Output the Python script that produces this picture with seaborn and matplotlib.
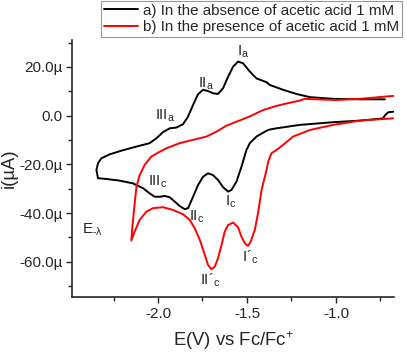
# cyclic voltammograms, with / without acetic acid
import pandas as pd
import matplotlib
matplotlib.use('Agg')
import matplotlib.pyplot as plt
import numpy as np
import seaborn as sns
from matplotlib.ticker import MultipleLocator, FuncFormatter

# black: absence of acetic acid (cathodic sweep right->left, then anodic back)
E_absence = [-0.678, -0.706, -0.725, -0.736, -0.866, -1.016, -1.203, -1.334, -1.372, -1.390,
             -1.447, -1.484, -1.503, -1.531, -1.559, -1.587, -1.606, -1.634, -1.663, -1.691,
             -1.719, -1.747, -1.775, -1.803, -1.831, -1.850, -1.878, -1.906, -1.934, -1.962,
             -1.990, -2.019, -2.047, -2.084, -2.141, -2.215, -2.290, -2.337, -2.346, -2.337,
             -2.318, -2.272, -2.197, -2.121, -2.047, -2.009, -1.972, -1.934, -1.897, -1.859,
             -1.831, -1.803, -1.775, -1.747, -1.719, -1.691, -1.663, -1.634, -1.606, -1.578,
             -1.550, -1.522, -1.484, -1.447, -1.390, -1.372, -1.297, -1.222, -1.147, -1.016,
             -0.866, -0.725]
i_absence = [1.6, 1.4, 0.1, -1.15, -2.05, -2.7, -3.8, -5.2, -5.7, -6.2,
             -8.6, -11.3, -14.1, -21.0, -27.1, -30.5, -31.2, -29.4, -26.4, -24.4,
             -23.7, -25.1, -28.5, -33.3, -38.0, -38.4, -37.1, -35.3, -33.5, -33.0,
             -33.3, -33.3, -31.9, -29.8, -27.8, -26.7, -26.0, -25.7, -22.3, -19.5,
             -17.5, -15.9, -14.2, -12.7, -11.3, -9.3, -6.8, -5.2, -4.9, -3.5,
             -0.4, 4.4, 8.8, 10.6, 10.1, 9.2, 8.9, 11.3, 16.0, 20.1,
             22.2, 21.5, 18.1, 15.3, 13.7, 12.6, 10.6, 8.9, 7.6, 6.9,
             6.7, 6.7]

# red: presence of acetic acid 1 mM
E_presence = [-0.678, -0.866, -1.016, -1.147, -1.241, -1.297, -1.334, -1.362, -1.381, -1.390,
              -1.418, -1.438, -1.456, -1.479, -1.494, -1.512, -1.531, -1.550, -1.578, -1.606,
              -1.625, -1.643, -1.663, -1.681, -1.700, -1.719, -1.737, -1.765, -1.794, -1.822,
              -1.859, -1.916, -1.972, -2.028, -2.065, -2.103, -2.131, -2.150, -2.144, -2.131,
              -2.121, -2.103, -2.075, -2.037, -2.002, -1.953, -1.878, -1.784, -1.728, -1.672,
              -1.615, -1.559, -1.484, -1.409, -1.334, -1.259, -1.203, -1.175, -1.109, -0.997,
              -0.866, -0.678]
i_presence = [-1.1, -2.05, -3.8, -5.9, -8.6, -12.0, -14.1, -15.4, -18.9, -22.3,
              -30.5, -40.1, -46.9, -51.7, -53.5, -52.4, -49.7, -45.8, -43.9, -44.9,
              -47.6, -53.1, -58.6, -62.0, -63.1, -61.3, -57.2, -51.0, -46.2, -42.8,
              -40.5, -38.7, -37.6, -38.0, -39.4, -42.8, -47.6, -51.3, -45.6, -36.0,
              -29.2, -24.4, -20.2, -16.8, -15.3, -13.4, -11.3, -9.6, -8.6, -6.6,
              -4.1, -2.5, -0.3, 2.3, 4.0, 5.3, 6.2, 6.9, 6.7, 6.4,
              6.9, 8.1]

# peak labels
peak_labels = ['I$_{\\rm a}$', 'II$_{\\rm a}$', 'III$_{\\rm a}$', 'III$_{\\rm c}$', 'II$_{\\rm c}$',
               'I$_{\\rm c}$', 'I\u00b4$_{\\rm c}$', 'II\u00b4$_{\\rm c}$', 'E$_{\\rm \u2010\\lambda}$']
peak_E = [-1.522, -1.731, -1.962, -2.002, -1.781, -1.591, -1.484, -1.709, -2.367]
peak_i = [26.1, 13.0, -0.1, -27.2, -41.6, -35.4, -58.0, -67.5, -46.9]

sns.set_style('ticks')
plt.rcParams['font.family'] = ['Liberation Sans', 'DejaVu Sans']
plt.rcParams['mathtext.fontset'] = 'custom'
plt.rcParams['mathtext.rm'] = 'Liberation Sans'
plt.rcParams['mathtext.it'] = 'Liberation Sans:italic'

df_a = pd.DataFrame({'E': E_absence, 'i': i_absence})
df_b = pd.DataFrame({'E': E_presence, 'i': i_presence})

fig = plt.figure(figsize=(4.07, 3.52), dpi=100)
ax = fig.add_axes([0.177, 0.156, 0.791, 0.730])

sns.lineplot(data=df_a, x='E', y='i', sort=False, estimator=None, color='black',
             lw=1.4, ax=ax, label='a) In the absence of acetic acid 1 mM')
sns.lineplot(data=df_b, x='E', y='i', sort=False, estimator=None, color='#ff0000',
             lw=1.4, ax=ax, label='b) In the presence of acetic acid 1 mM')
for ln in ax.lines:
    ln.set_solid_joinstyle('round')

for lab, xe, yi in zip(peak_labels, peak_E, peak_i):
    ax.text(xe, yi, lab, fontsize=11, ha='center', va='center')

ax.set_xlim(-2.483, -0.674)
ax.set_ylim(-74.5, 31)
ax.xaxis.set_major_locator(MultipleLocator(0.5))
ax.xaxis.set_minor_locator(MultipleLocator(0.25))
ax.yaxis.set_major_locator(MultipleLocator(20))
ax.yaxis.set_minor_locator(MultipleLocator(10))
ax.yaxis.set_major_formatter(FuncFormatter(lambda v, p: '0.0' if abs(v) < 1e-9 else f'{v:.1f}\u00b5'))
ax.xaxis.set_major_formatter(FuncFormatter(lambda v, p: f'{v:.1f}'))
ax.tick_params(which='major', direction='out', length=4, width=1, labelsize=11, pad=3)
ax.tick_params(which='minor', direction='out', length=3, width=1)

sns.despine(ax=ax)
for s in ['left', 'bottom']:
    ax.spines[s].set_linewidth(1.2)

ax.set_xlabel('E(V) vs Fc/Fc$^{+}$', fontsize=13.3, labelpad=6)
ax.set_ylabel('i(\u00b5A)', fontsize=13.3, labelpad=1)

leg = ax.legend(loc='upper right', bbox_to_anchor=(0.988, 0.998), bbox_transform=fig.transFigure,
                fontsize=10.9, frameon=True, fancybox=False, borderaxespad=0, borderpad=0.2,
                handlelength=2.3, handletextpad=0.3, labelspacing=0.15)
leg.get_frame().set_edgecolor('#808080')
leg.get_frame().set_linewidth(0.8)

fig.savefig('out.png', dpi=100)
